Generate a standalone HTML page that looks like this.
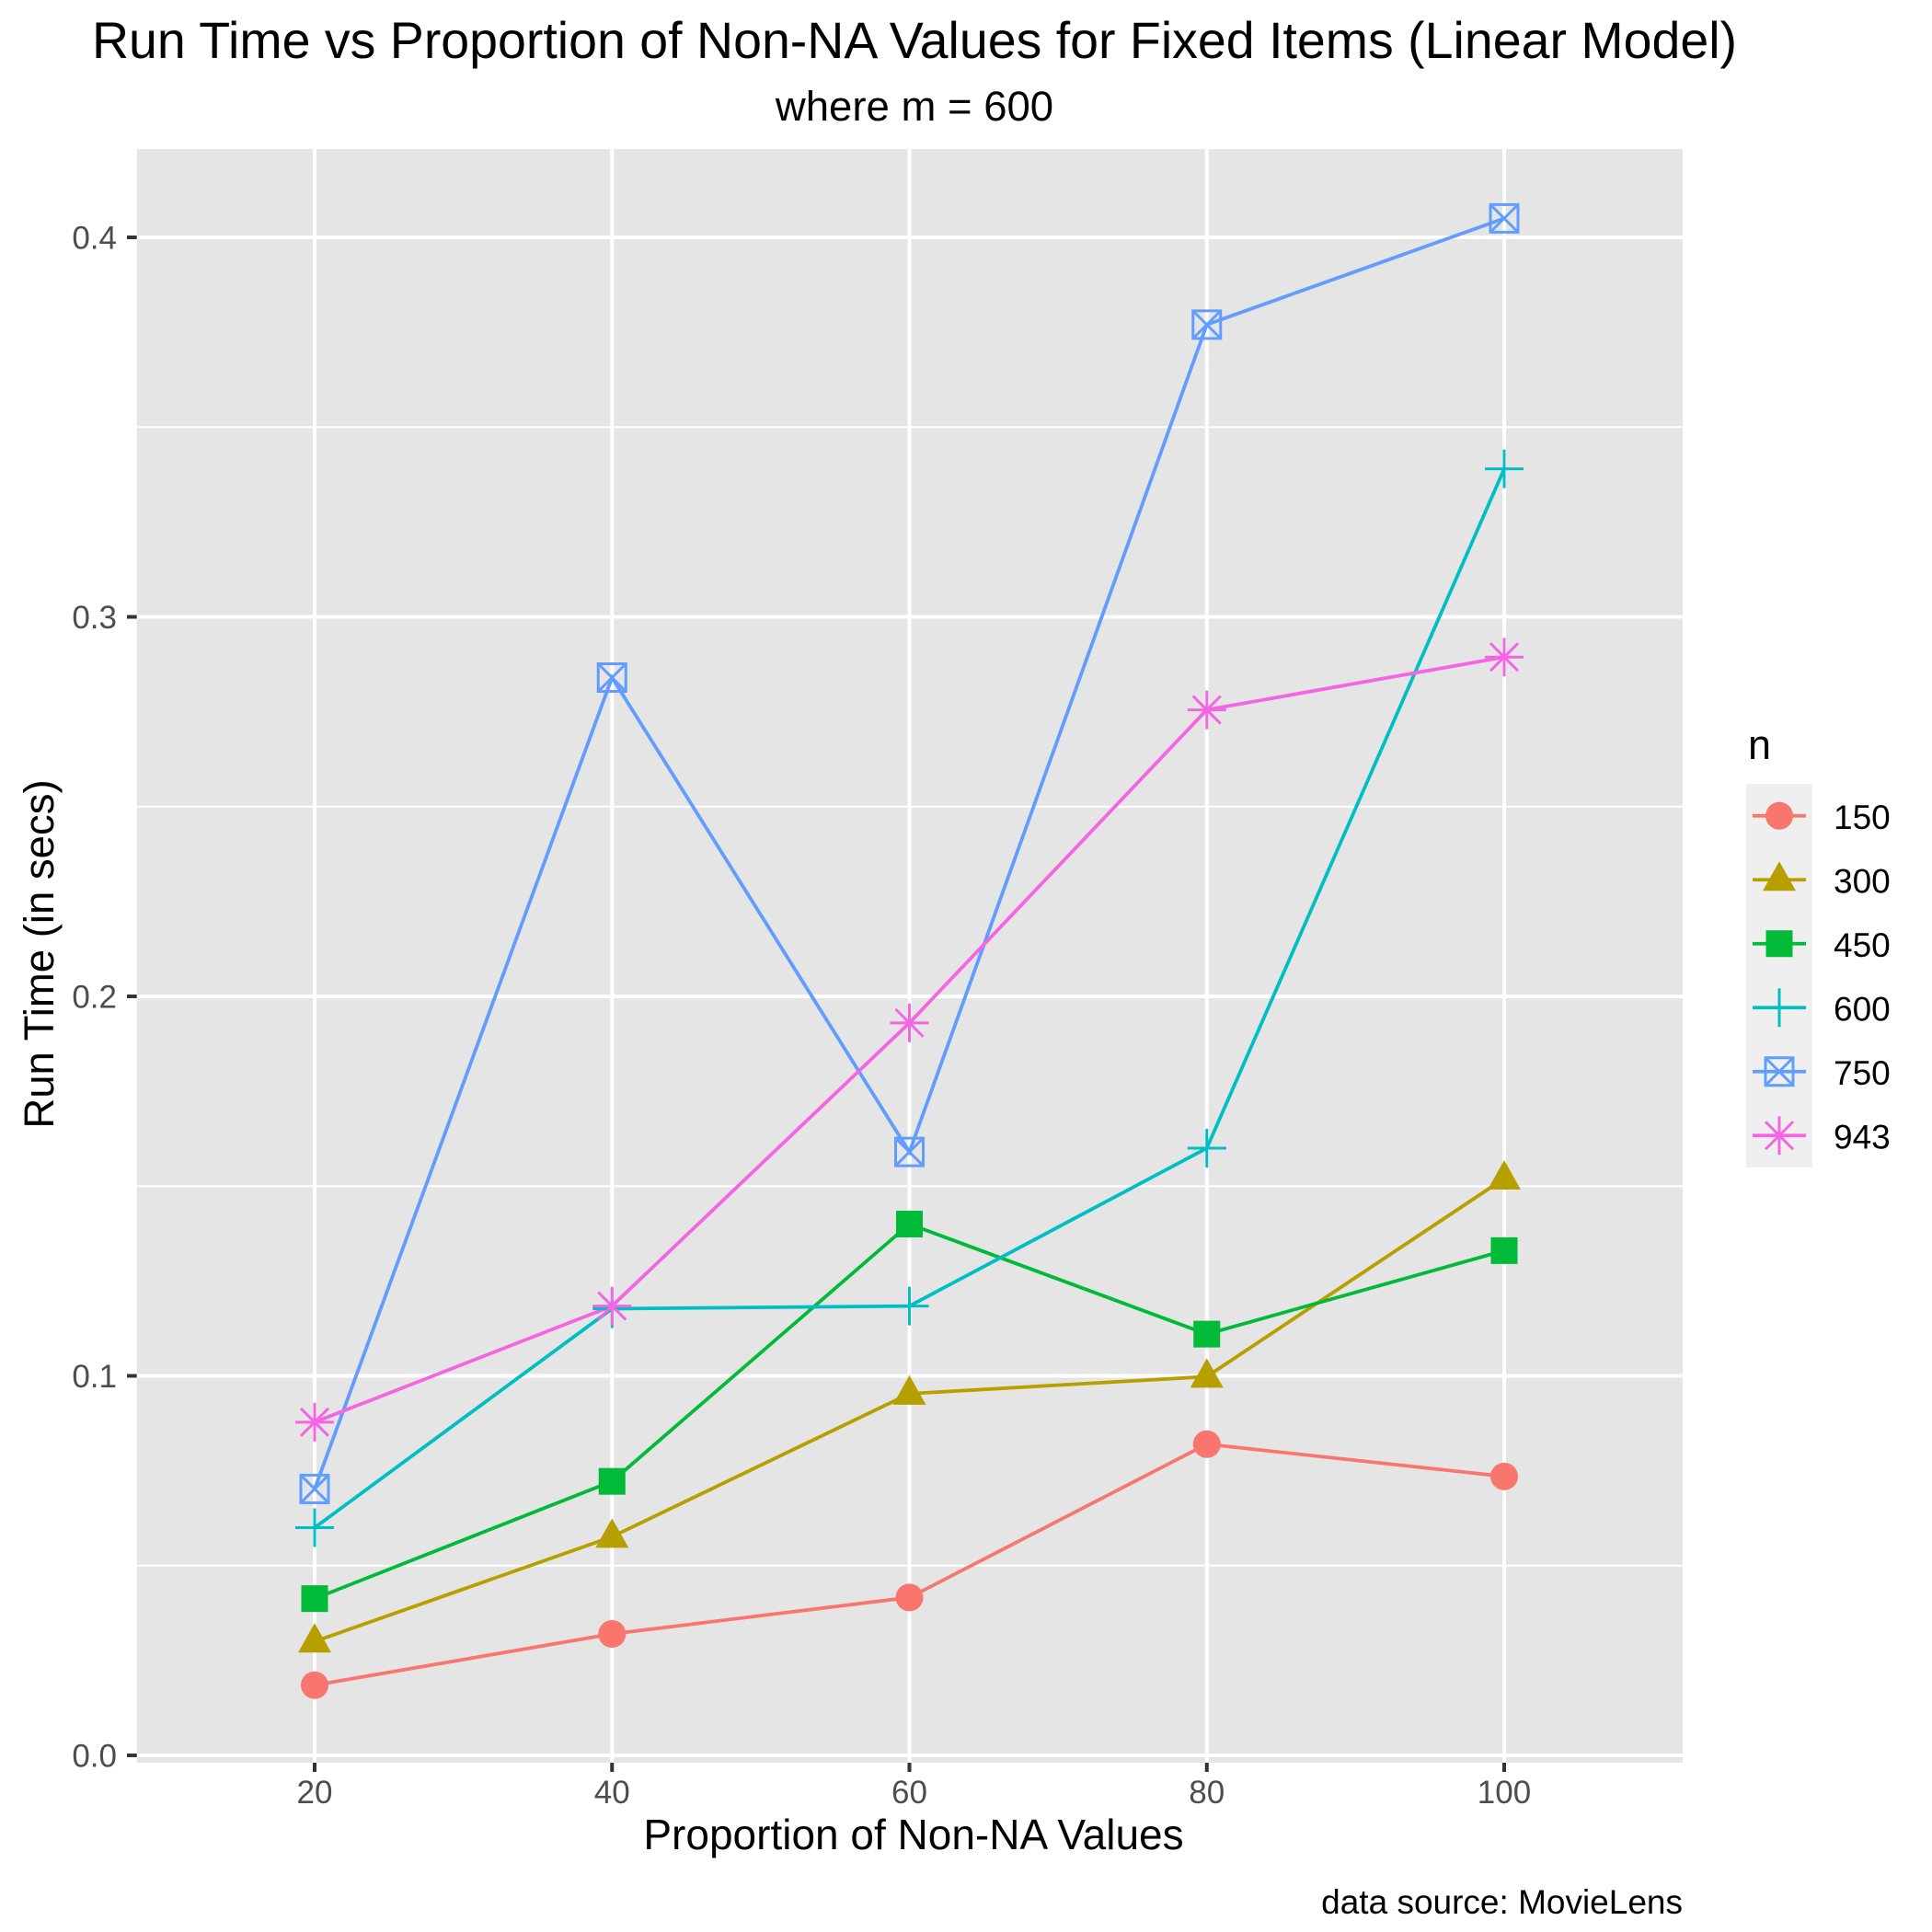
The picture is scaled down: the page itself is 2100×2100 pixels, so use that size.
<!DOCTYPE html>
<html><head><meta charset="utf-8"><style>body{margin:0;background:#fff}svg{display:block;font-family:"Liberation Sans",sans-serif}</style></head>
<body>
<svg id="chart" width="2100" height="2100" viewBox="0 0 2100 2100">
<text x="994" y="63" font-size="55.5" text-anchor="middle" fill="#000">Run Time vs Proportion of Non-NA Values for Fixed Items (Linear Model)</text>
<text x="994" y="131" font-size="45.5" text-anchor="middle" fill="#000">where m = 600</text>
<rect x="148.7" y="162" width="1680.3" height="1754" fill="#e5e5e5"/>
<g id="grid"></g><g id="axes"></g><g id="series"></g>
<text x="993" y="2010" font-size="46" text-anchor="middle" fill="#000">Proportion of Non-NA Values</text>
<text transform="translate(58,1037) rotate(-90)" font-size="45.5" text-anchor="middle" fill="#000">Run Time (in secs)</text>
<text x="1829" y="2080" font-size="37" text-anchor="end" fill="#000">data source: MovieLens</text>
<text x="1900" y="825" font-size="45" fill="#000">n</text>
<rect x="1898" y="852" width="72" height="417" fill="#efefef"/>
<g id="legend"></g>
</svg>
<script>
const xVals = [20, 40, 60, 80, 100];
const groups = ["150", "300", "450", "600", "750", "943"];
const s150 = [0.0185, 0.032, 0.0416, 0.082, 0.0735];
const s300 = [0.030, 0.0576, 0.0953, 0.0998, 0.152];
const s450 = [0.0413, 0.0722, 0.140, 0.111, 0.133];
const s600 = [0.060, 0.1177, 0.1184, 0.160, 0.339];
const s750 = [0.0702, 0.284, 0.159, 0.377, 0.405];
const s943 = [0.0878, 0.1184, 0.193, 0.2755, 0.2894];
const yTicks = ["0.0", "0.1", "0.2", "0.3", "0.4"];
const xTicks = ["20", "40", "60", "80", "100"];

const NS = "http://www.w3.org/2000/svg";
const colors = ["#F8766D", "#B79F00", "#00BA38", "#00BFC4", "#619CFF", "#F564E3"];
const shapes = ["circle", "triangle", "square", "plus", "boxx", "star"];
const series = [s150, s300, s450, s600, s750, s943];
const PL = 148.7, PR = 1829, PT = 162, PB = 1916;
const X = v => 342 + (v - 20) * (1635 - 342) / 80;
const Y = v => 1908 - v * (1908 - 258) / 0.4;
function mk(tag, attrs, parent) { const e = document.createElementNS(NS, tag); for (const k in attrs) e.setAttribute(k, attrs[k]); parent.appendChild(e); return e; }
const grid = document.getElementById("grid"), axes = document.getElementById("axes"), ser = document.getElementById("series"), leg = document.getElementById("legend");
for (let i = 0; i < yTicks.length - 1; i++) {
  const v = (parseFloat(yTicks[i]) + parseFloat(yTicks[i + 1])) / 2;
  const l = mk("line", {x1: PL, x2: PR, y1: Y(v), y2: Y(v), stroke: "#fff", "stroke-width": 2}, grid);
  
  
}
yTicks.forEach(t => {
  const y = Y(parseFloat(t));
  const l = mk("line", {x1: PL, x2: PR, y1: y, y2: y, stroke: "#fff", "stroke-width": 4}, grid);
  
  
  const tk = mk("line", {x1: 138, x2: PL, y1: y, y2: y, stroke: "#333", "stroke-width": 4}, axes);
  
  
  const tx = mk("text", {x: 127, y: y + 12.5, "font-size": 35, fill: "#4d4d4d", "text-anchor": "end"}, axes);
  tx.textContent = t;
  
  
});
xTicks.forEach(t => {
  const x = X(parseFloat(t));
  const l = mk("line", {x1: x, x2: x, y1: PT, y2: PB, stroke: "#fff", "stroke-width": 4}, grid);
  
  
  const tk = mk("line", {x1: x, x2: x, y1: PB, y2: PB + 10, stroke: "#333", "stroke-width": 4}, axes);
  
  
  const tx = mk("text", {x: x, y: 1960, "font-size": 35, fill: "#4d4d4d", "text-anchor": "middle"}, axes);
  tx.textContent = t;
  
  
});
function shape(kind, cx, cy, c, parent) {
  const g = mk("g", {}, parent);
  if (kind === "circle") mk("circle", {cx, cy, r: 15, fill: c}, g);
  else if (kind === "triangle") mk("polygon", {points: `${cx},${cy - 20} ${cx + 18},${cy + 12} ${cx - 18},${cy + 12}`, fill: c}, g);
  else if (kind === "square") mk("rect", {x: cx - 14.5, y: cy - 14.5, width: 29, height: 29, fill: c}, g);
  else if (kind === "plus") { mk("path", {d: `M${cx - 21},${cy}H${cx + 21}M${cx},${cy - 21}V${cy + 21}`, stroke: c, "stroke-width": 3, fill: "none"}, g); }
  else if (kind === "boxx") { mk("rect", {x: cx - 15, y: cy - 15, width: 30, height: 30, stroke: c, "stroke-width": 3, fill: "none"}, g); mk("path", {d: `M${cx - 15},${cy - 15}L${cx + 15},${cy + 15}M${cx + 15},${cy - 15}L${cx - 15},${cy + 15}`, stroke: c, "stroke-width": 3}, g); }
  else if (kind === "star") { mk("path", {d: `M${cx - 21},${cy}H${cx + 21}M${cx},${cy - 21}V${cy + 21}M${cx - 15},${cy - 15}L${cx + 15},${cy + 15}M${cx + 15},${cy - 15}L${cx - 15},${cy + 15}`, stroke: c, "stroke-width": 3}, g); }
  return g;
}
series.forEach((s, i) => {
  const pts = s.map((v, j) => X(xVals[j]) + "," + Y(v)).join(" ");
  const pl = mk("polyline", {points: pts, fill: "none", stroke: colors[i], "stroke-width": 3.8}, ser);
  
  
});
series.forEach((s, i) => {
  s.forEach((v, j) => {
    const g = shape(shapes[i], X(xVals[j]), Y(v), colors[i], ser);
    
    
  });
  const cy = 852 + 34.75 + i * 69.5;
  const lg = mk("g", {}, leg);
  
  
  mk("line", {x1: 1905, x2: 1963, y1: cy, y2: cy, stroke: colors[i], "stroke-width": 3.8}, lg);
  shape(shapes[i], 1934, cy, colors[i], lg);
  const t = mk("text", {x: 1993, y: cy + 14, "font-size": 37, fill: "#000"}, lg);
  t.textContent = groups[i];
});
</script>
</body></html>
